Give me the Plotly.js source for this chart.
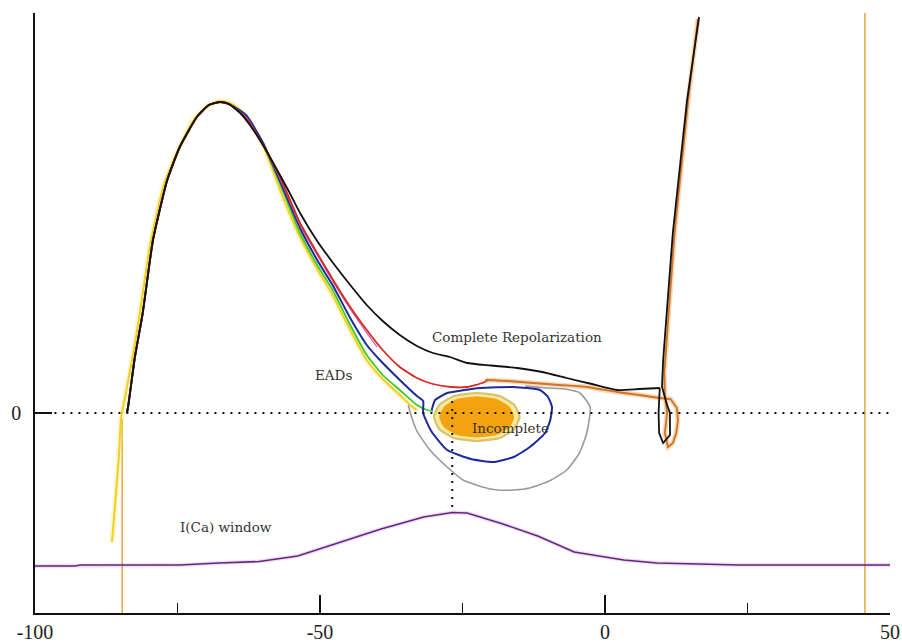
<!DOCTYPE html>
<html>
<head>
<meta charset="utf-8">
<script src="https://cdn.plot.ly/plotly-3.0.1.min.js"></script>
<style>html,body{margin:0;padding:0;background:#fff;}#chart{width:902px;height:644px;}</style>
</head>
<body>
<div id="chart"></div>
<script>
// ---- data (voltage V, rate value) ----
const xTickVals = [-100, -50, 0, 50];
const xTickText = ['-100', '-50', '0', '50'];
const xMinorVals = [-75, -25, 25];
const yTickVals = [0];
const yTickText = ['0'];

// shared upstroke (all traces)
const upV = [-83.9, -83.7, -82.5, -81.1, -79.3, -76.8, -74.6, -71.6, -69.5, -67.5];
const upY = [0, 5, 55, 100, 173, 233, 266, 296, 308, 311];

// yellow: starts below zero
const yellowV = [-86.5, -86.0, -85.3, -84.9, -84.4, -82.9, -81.6, -79.8, -77.4, -75.0, -72.2, -69.8, -67.6, -65.5, -63, -60, -56.5, -53.5, -50.5, -47.7, -44.7, -41.8, -39, -36, -34, -33];
const yellowY = [-129, -95, -45, -5, 10, 55, 100, 168, 228, 262, 293, 307, 312, 309, 298, 268, 216, 176, 144, 117, 83, 53, 34, 18, 7, 3];

const blackV = [-66, -64, -62.3, -60, -58.2, -55.5, -53.5, -50.5, -47.7, -44.7, -41.8, -39, -36, -33, -30.2, -27.2, -24.2, -20, -15.4, -11, -6.7, -2.3, 2.1, 6, 9.6];
const blackY = [309, 300, 288, 268, 250, 222, 200, 172, 150, 128, 108, 92, 78, 67, 60, 56, 50, 47.5, 45, 41, 35, 29, 23, 24, 25];
const blackLoopV = [9.6, 9.4, 9.5, 10.2, 11.4, 11.4, 10.9, 10.0, 10.2, 11.9, 14.4, 16.5];
const blackLoopY = [25, 0, -20, -30, -22, 0, 8, 26, 53, 180, 313, 396];

const redV = [-66, -63, -60, -57, -53.5, -50.5, -47.7, -44.7, -41.8, -39, -36, -33, -30.2, -27, -24.2, -21.5, -20.5];
const redY = [309, 295, 268, 236, 190, 160, 133, 106, 83, 63, 46, 35, 29, 26, 26, 30, 33];

const magentaV = [-66, -63, -60, -57, -53.5, -50.5, -47.7, -44.7, -41.8, -40];
const magentaY = [309, 296, 268, 234, 188, 158, 131, 104, 80, 66];

const orangeV = [-21, -17, -12.6, -8, -3.2, 2.1, 6, 9.6];
const orangeY = [33, 32, 30, 28, 26, 21, 18, 15];
const orangeLoopV = [9.6, 11.5, 12.6, 12.8, 12.5, 11.9, 11.05, 10.5, 10.9, 10.5, 10.4, 12.2, 14.6, 16.3];
const orangeLoopY = [15, 14, 5, -7, -20, -30, -34, -20, 0, 16, 40, 180, 313, 394];

const blueV = [-66, -63, -60, -56.5, -53.5, -50.5, -47.7, -44.7, -41.8, -39.5, -36, -33, -31.9, -31.9, -30.5, -27.7, -23.5, -19.6, -16, -13.2, -10.5, -9.6, -9.3, -10, -11.4, -16.1, -21.9, -27.7, -29.8, -30.4];
const blueY = [309, 298, 270, 225, 185, 153, 127, 95, 68, 53, 33, 17, 12, 0, -18, -37, -46, -49, -44, -34, -20, -7, 6, 16, 23, 26, 25, 20, 13, 3];

const greenV = [-66, -63, -60, -56.5, -53.5, -50.5, -47.7, -44.7, -41.8, -39, -36, -33, -31.2, -30.2];
const greenY = [309, 298, 270, 222, 180, 148, 122, 88, 58, 38, 23, 8, 3, 2];

const grayV = [-34.5, -34.2, -33, -30.7, -27.5, -24.9, -21.5, -18.9, -16, -13.2, -9.8, -6.7, -4.5, -3.2, -2.6, -4.4, -7, -10.2, -14];
const grayY = [8, 1, -18, -37, -55, -67, -74, -77, -77, -75, -68, -57, -40, -20, 6, 20, 24, 25, 27];

const blobV = [-29, -28.2, -26, -22.5, -19, -16.8, -16, -16.8, -19, -22.5, -26, -28.2, -29];
const blobY = [-4, 6, 13.5, 16, 13.5, 6, -4, -14, -21.5, -24, -21.5, -14, -4];
const ringV = [-30, -29.1, -26.5, -22.5, -18.5, -15.9, -15, -15.9, -18.5, -22.5, -26.5, -29.1, -30];
const ringY = [-4, 8, 17, 20, 17, 8, -4, -16, -25, -28, -25, -16, -4];

const icaV = [-100, -93, -92, -74.6, -67.7, -60.7, -53.9, -46.3, -39.3, -31.8, -26.8, -24.2, -17.9, -11.8, -5.4, 3.3, 9.1, 23.5, 50];
const icaY = [-153, -153, -152, -152, -150, -148.5, -143, -129, -116, -104, -99.5, -100, -111, -123, -139, -147, -150, -152, -152];

const leftBarV = [-84.7, -84.7];
const leftBarY = [-6, -200];
const rightBarV = [45.6, 45.6];
const rightBarY = [-200, 400];
const zeroLineV = [-98, 50];
const zeroLineY = [0, 0];
const windowDropV = [-26.8, -26.8];
const windowDropY = [12, -99];

const labels = [
  {text: 'Complete Repolarization', v: -15.4, y: 76},
  {text: 'EADs', v: -47.7, y: 38},
  {text: 'Incomplete', v: -16.5, y: -15},
  {text: 'I(Ca) window', v: -66.5, y: -114}
];

// ---- build ----
const cat = (a, b) => a.concat(b);
function ln(x, y, color, width, extra) {
  return Object.assign({x: x, y: y, mode: 'lines', type: 'scatter', hoverinfo: 'skip',
    line: {color: color, width: width, shape: 'spline', smoothing: 0.5}}, extra || {});
}
function lin(x, y, color, width, extra) {
  return Object.assign({x: x, y: y, mode: 'lines', type: 'scatter', hoverinfo: 'skip',
    line: {color: color, width: width}}, extra || {});
}
const traces = [
  lin(leftBarV, leftBarY, '#e3a640', 1.5),
  lin(rightBarV, rightBarY, '#e3a640', 1.5),
  lin(icaV, icaY, 'rgba(220,150,230,0.35)', 4),
  lin(icaV, icaY, '#5e2a7e', 1.6),
  ln(yellowV, yellowY, 'rgba(250,225,110,0.3)', 6),
  ln(grayV, grayY, '#9a9a9a', 1.6),
  ln(yellowV, yellowY, '#f0d020', 2),
  ln(cat(upV, greenV), cat(upY, greenY), '#3ccc2a', 1.8),
  ln(cat(upV, blueV), cat(upY, blueY), '#1c2a9c', 2),
  ln(cat(upV, magentaV), cat(upY, magentaY), '#d050c0', 1.2),
  ln(cat(upV, redV), cat(upY, redY), '#d42a22', 1.8),
  ln(orangeV, orangeY, 'rgba(240,170,90,0.45)', 5),
  lin(orangeLoopV, orangeLoopY, 'rgba(240,170,90,0.45)', 5),
  ln(orangeV, orangeY, '#c8742a', 1.8),
  lin(orangeLoopV, orangeLoopY, '#c8742a', 1.8),
  ln(cat(upV, blackV), cat(upY, blackY), '#111111', 1.8),
  lin(blackLoopV, blackLoopY, '#111111', 1.8),
  ln(ringV, ringY, '#d8c468', 2.2, {fill: 'toself', fillcolor: '#f7e7a0'}),
  ln(blobV, blobY, '#f2a30f', 1, {fill: 'toself', fillcolor: '#f2a30f'}),
  lin(zeroLineV, zeroLineY, '#111', 2, {line: {color: '#111', width: 2, dash: '2px,6px'}}),
  lin(windowDropV, windowDropY, '#111', 2, {line: {color: '#111', width: 2, dash: '2px,6px'}})
];

const annotations = labels.map(l => ({
  x: l.v, y: l.y, xref: 'x', yref: 'y', text: l.text, showarrow: false,
  font: {family: 'DejaVu Serif, serif', size: 13.5, color: '#333333'},
  xanchor: 'center', yanchor: 'middle'
}));

const layout = {
  width: 902, height: 644,
  margin: {l: 35, r: 12, t: 13, b: 31, pad: 0},
  paper_bgcolor: '#ffffff', plot_bgcolor: '#ffffff',
  showlegend: false,
  xaxis: {
    range: [-100, 50], tickmode: 'array', tickvals: xTickVals, ticktext: xTickText,
    ticks: 'inside', ticklen: 18, tickwidth: 1.5, tickcolor: '#111',
    minor: {tickmode: 'array', tickvals: xMinorVals, ticks: 'inside', ticklen: 10, tickwidth: 1.5, tickcolor: '#111'},
    showline: true, linecolor: '#111', linewidth: 1.8, mirror: false,
    showgrid: false, zeroline: false, automargin: false,
    tickfont: {family: 'Liberation Serif, serif', size: 20, color: '#222'}
  },
  yaxis: {
    range: [-200, 400], tickmode: 'array', tickvals: yTickVals, ticktext: yTickText,
    ticks: 'inside', ticklen: 17, tickwidth: 1.8, tickcolor: '#111',
    showline: true, linecolor: '#111', linewidth: 1.8, mirror: false,
    showgrid: false, zeroline: false, automargin: false, ticklabelstandoff: 8,
    tickfont: {family: 'Liberation Serif, serif', size: 20, color: '#222'}
  },
  annotations: annotations
};

Plotly.newPlot('chart', traces, layout, {staticPlot: true, displayModeBar: false});
</script>
</body>
</html>
